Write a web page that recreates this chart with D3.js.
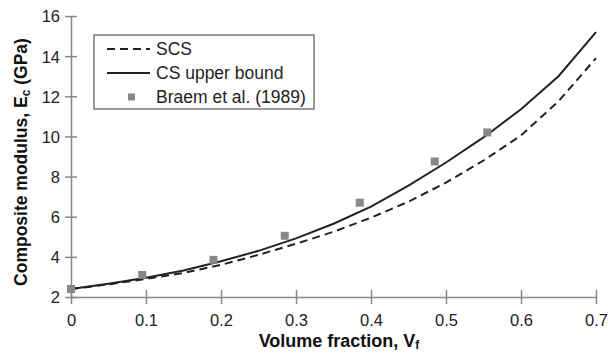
<html>
<head>
<meta charset="utf-8">
<style>
body { margin: 0; background: #fff; }
svg { font-family: "Liberation Sans", Arial, sans-serif; }
.axis path, .axis line { stroke: #888; stroke-width: 1.5; }
.axis text { font-size: 16.5px; fill: #222; }
.title { font-weight: bold; fill: #111; }
</style>
</head>
<body>
<svg width="608" height="353"></svg>
<script src="https://cdn.jsdelivr.net/npm/d3@7"></script>
<script>
// volume fraction grid for the two model curves
var vf = [0, 0.05, 0.1, 0.15, 0.2, 0.25, 0.3, 0.35, 0.4, 0.45, 0.5, 0.55, 0.6, 0.65, 0.7];
var scs = [2.4, 2.63, 2.9, 3.2, 3.6, 4.1, 4.65, 5.25, 5.95, 6.75, 7.7, 8.8, 10.05, 11.75, 13.9];
var csUpper = [2.4, 2.66, 2.96, 3.32, 3.78, 4.3, 4.92, 5.65, 6.5, 7.55, 8.7, 9.95, 11.35, 13.0, 15.2];

// Braem et al. (1989) measurements
var braemVf = [0, 0.095, 0.19, 0.285, 0.385, 0.485, 0.555];
var braemE = [2.4, 3.1, 3.85, 5.05, 6.7, 8.75, 10.2];

var xTicks = [0, 0.1, 0.2, 0.3, 0.4, 0.5, 0.6, 0.7];
var yTicks = [2, 4, 6, 8, 10, 12, 14, 16];

var svg = d3.select("svg");

var x = d3.scaleLinear().domain([0, 0.7]).range([71, 596]);
var y = d3.scaleLinear().domain([2, 16]).range([297, 16]);

// axes, ticks crossing the axis line
svg.append("g")
    .attr("class", "axis")
    .attr("transform", "translate(0,297)")
    .call(d3.axisBottom(x).tickValues(xTicks).tickFormat(d3.format("")).tickSize(7).tickSizeOuter(0).tickPadding(10))
    .call(function(g) {
      g.selectAll(".tick line").attr("y1", -7);
    });

svg.append("g")
    .attr("class", "axis")
    .attr("transform", "translate(71,0)")
    .call(d3.axisLeft(y).tickValues(yTicks).tickSize(6).tickSizeOuter(0).tickPadding(5))
    .call(function(g) {
      g.selectAll(".tick line").attr("x1", 6);
      g.selectAll(".tick text").attr("dy", "0.36em");
    });
svg.selectAll(".axis .domain").attr("fill", "none");

var line = d3.line()
    .x(function(d, i) { return x(vf[i]); })
    .y(function(d) { return y(d); });

svg.append("path")
    .datum(scs)
    .attr("d", line)
    .attr("fill", "none")
    .attr("stroke", "#222")
    .attr("stroke-width", 2)
    .attr("stroke-dasharray", "8,5");

svg.append("path")
    .datum(csUpper)
    .attr("d", line)
    .attr("fill", "none")
    .attr("stroke", "#222")
    .attr("stroke-width", 2);

svg.selectAll(".pt")
    .data(braemE)
  .enter().append("rect")
    .attr("class", "pt")
    .attr("x", function(d, i) { return x(braemVf[i]) - 4; })
    .attr("y", function(d) { return y(d) - 4; })
    .attr("width", 8)
    .attr("height", 8)
    .attr("fill", "#888");

// axis titles
var xt = svg.append("text")
    .attr("class", "title")
    .attr("x", 339)
    .attr("y", 347)
    .attr("font-size", "18px")
    .attr("text-anchor", "middle")
    .text("Volume fraction, V");
xt.append("tspan").attr("font-size", "12px").attr("dy", 2).text("f");

var yt = svg.append("text")
    .attr("class", "title")
    .attr("font-size", "17.5px")
    .attr("transform", "translate(27,162) rotate(-90)")
    .attr("text-anchor", "middle")
    .text("Composite modulus, E");
yt.append("tspan").attr("font-size", "12px").attr("dy", 3).text("c");
yt.append("tspan").attr("dy", -3).text(" (GPa)");

// legend
var lg = svg.append("g");
lg.append("rect")
    .attr("x", 94).attr("y", 35)
    .attr("width", 220).attr("height", 74)
    .attr("fill", "#fff")
    .attr("stroke", "#777")
    .attr("stroke-width", 1.5);

var items = ["SCS", "CS upper bound", "Braem et al. (1989)"];
items.forEach(function(t, i) {
  var cy = 49 + i * 24;
  if (i < 2) {
    lg.append("line")
      .attr("x1", 107).attr("x2", 150)
      .attr("y1", cy).attr("y2", cy)
      .attr("stroke", "#222").attr("stroke-width", 2)
      .attr("stroke-dasharray", i === 0 ? "8,5" : null);
  } else {
    lg.append("rect")
      .attr("x", 128).attr("y", cy - 3.5)
      .attr("width", 7).attr("height", 7)
      .attr("fill", "#888");
  }
  lg.append("text")
    .attr("x", 156).attr("y", cy)
    .attr("dy", "0.36em")
    .attr("font-size", "17.5px")
    .attr("fill", "#222")
    .text(t);
});
</script>
</body>
</html>
